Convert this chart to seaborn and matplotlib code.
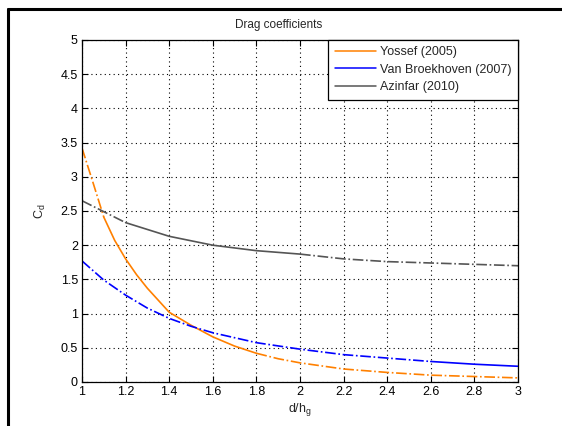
import numpy as np
import pandas as pd
import matplotlib
matplotlib.use("Agg")
import matplotlib.pyplot as plt
import seaborn as sns
from matplotlib.lines import Line2D

# ---- data ----
x_yossef = [1.0, 1.05, 1.1, 1.15, 1.2, 1.25, 1.3, 1.4, 1.5, 1.6, 1.7, 1.8, 1.9, 2.0,
            2.2, 2.4, 2.6, 2.8, 3.0]
cd_yossef = [3.42, 2.92, 2.41, 2.07, 1.80, 1.57, 1.37, 1.02, 0.83, 0.66, 0.525, 0.42,
             0.34, 0.28, 0.19, 0.14, 0.10, 0.08, 0.06]
x_vb = [1.0, 1.1, 1.2, 1.3, 1.4, 1.5, 1.6, 1.8, 2.0, 2.2, 2.4, 2.6, 2.8, 3.0]
cd_vb = [1.77, 1.49, 1.27, 1.08, 0.93, 0.815, 0.72, 0.575, 0.48, 0.40, 0.35, 0.30, 0.26, 0.23]
x_az = [1.0, 1.1, 1.2, 1.4, 1.6, 1.8, 2.0, 2.2, 2.4, 2.6, 2.8, 3.0]
cd_az = [2.65, 2.49, 2.33, 2.13, 2.00, 1.92, 1.87, 1.80, 1.76, 1.74, 1.72, 1.70]
labels = ["Yossef (2005)", "Van Broekhoven (2007)", "Azinfar (2010)"]
xticks = [1, 1.2, 1.4, 1.6, 1.8, 2, 2.2, 2.4, 2.6, 2.8, 3]
yticks = [0, 0.5, 1, 1.5, 2, 2.5, 3, 3.5, 4, 4.5, 5]

# ---- styling ----
sns.set_style("white")
plt.rcParams["font.family"] = ["Liberation Sans", "DejaVu Sans"]

colors = ["#FF8000", "#0000FF", "#555555"]
# line-style segments (x ranges) per series
segments = [
    [((1.0, 1.1), "-."), ((1.1, 1.8), "-"), ((1.8, 3.0), "-.")],
    [((1.0, 2.6), "-."), ((2.6, 3.0), "-")],
    [((1.0, 1.2), "-."), ((1.2, 2.0), "-"), ((2.0, 3.0), "-.")],
]
series = [(x_yossef, cd_yossef), (x_vb, cd_vb), (x_az, cd_az)]

fig = plt.figure(figsize=(5.62, 4.26), dpi=100)
ax = fig.add_axes([82 / 562, 44 / 426, 436 / 562, 342 / 426])

for (xs, ys), segs, c in zip(series, segments, colors):
    df = pd.DataFrame({"x": xs, "y": ys})
    for (lo, hi), ls in segs:
        sub = df[(df.x >= lo - 1e-9) & (df.x <= hi + 1e-9)]
        sns.lineplot(data=sub, x="x", y="y", ax=ax, color=c, linestyle=ls,
                     linewidth=1.2, sort=True, legend=False)

ax.set_xlim(1, 3)
ax.set_ylim(0, 5)
ax.set_xticks(xticks)
ax.set_yticks(yticks)
ax.set_xticklabels([f"{t:g}" for t in xticks])
ax.set_yticklabels([f"{t:g}" for t in yticks])
ax.grid(True, color="black", linestyle=(0, (1, 3)), linewidth=0.8)
ax.tick_params(direction="in", length=4, width=0.8, labelsize=9, colors="black",
               top=True, right=True, bottom=True, left=True, pad=3)
for s in ax.spines.values():
    s.set_color("black")
    s.set_linewidth(0.9)
ax.set_xlabel("d/h$_\\mathregular{g}$", fontsize=9, labelpad=2)
ax.set_ylabel("C$_\\mathregular{d}$", fontsize=9, labelpad=9)

handles = [Line2D([0], [0], color=c, lw=1.1) for c in colors]
leg = ax.legend(handles, labels, loc="upper right", borderaxespad=0,
                fontsize=9, frameon=True, fancybox=False, edgecolor="black",
                handlelength=3.3, handletextpad=0.35, labelspacing=0.45,
                borderpad=0.5, framealpha=1)
leg.get_frame().set_linewidth(0.9)

fig.text(279 / 562, 1 - 25 / 426, "Drag coefficients", ha="center", va="center", fontsize=8.5)

# outer frame lines (top and left)
fig.add_artist(Line2D([8 / 562, 1], [1 - 9 / 426, 1 - 9 / 426], transform=fig.transFigure,
                      color="black", lw=2.2))
fig.add_artist(Line2D([8 / 562, 8 / 562], [0, 1 - 9 / 426], transform=fig.transFigure,
                      color="black", lw=2.2))

fig.savefig("out.png", dpi=100)
